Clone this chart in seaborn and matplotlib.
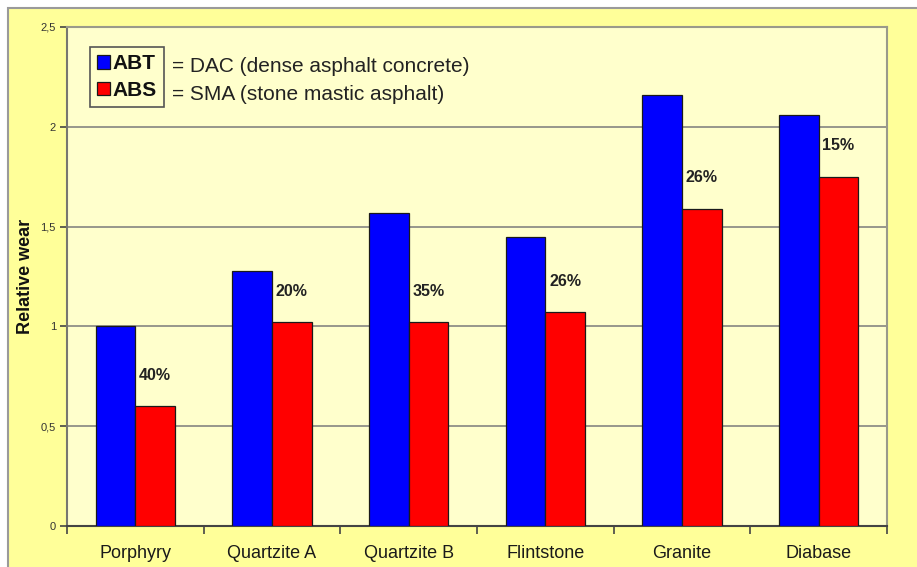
import matplotlib
matplotlib.use("Agg")
import matplotlib.pyplot as plt
from matplotlib.patches import Rectangle
from matplotlib.ticker import FixedLocator, FuncFormatter
import seaborn as sns
import pandas as pd

# Relative wear per aggregate type for the two asphalt mixes
rocks = ["Porphyry", "Quartzite A", "Quartzite B", "Flintstone", "Granite", "Diabase"]
abt_wear = [1.00, 1.28, 1.57, 1.45, 2.16, 2.06]
abs_wear = [0.60, 1.02, 1.02, 1.07, 1.59, 1.75]
reduction_pct = ["40%", "20%", "35%", "26%", "26%", "15%"]
mix_names = ["ABT", "ABS"]
mix_desc = ["= DAC (dense asphalt concrete)", "= SMA (stone mastic asphalt)"]
y_ticks = [0, 0.5, 1, 1.5, 2, 2.5]

df = pd.DataFrame({
    "Rock": rocks * 2,
    "Wear": abt_wear + abs_wear,
    "Mix": [mix_names[0]] * len(rocks) + [mix_names[1]] * len(rocks),
})

sns.set_theme(style="white")
plt.rcParams["font.family"] = ["Liberation Sans", "DejaVu Sans"]

W, H = 917, 567
fig = plt.figure(figsize=(W / 100, H / 100), dpi=100, facecolor="white")

# Outer chart area (yellow panel with grey frame)
panel = Rectangle((8 / W, -0.05), 1.1, 1 - 8 / H + 0.05,
                  transform=fig.transFigure, facecolor="#FFFF99",
                  edgecolor="#9A9A9A", linewidth=1.5, zorder=-10)
fig.patches.append(panel)

ax = fig.add_axes([67 / W, 41 / H, 820 / W, 499 / H])
ax.set_zorder(1)
ax.set_facecolor("#FFFFCC")

sns.barplot(data=df, x="Rock", y="Wear", hue="Mix", order=rocks,
            hue_order=mix_names,
            palette={"ABT": "#0000FF", "ABS": "#FF0000"},
            width=0.58, gap=0, edgecolor="#1a1a1a", linewidth=0.9,
            saturation=1, ax=ax, zorder=3)

ax.set_ylim(0, 2.5)
ax.set_xlim(-0.5, len(rocks) - 0.5)

# Horizontal grid at every 0.5
ax.yaxis.set_major_locator(FixedLocator(y_ticks))
ax.yaxis.set_major_formatter(FuncFormatter(lambda v, p: f"{v:g}".replace(".", ",")))
ax.grid(axis="y", color="#7a7a7a", linewidth=1.1, zorder=1)
ax.set_axisbelow(True)

# Category ticks: labels centred, marks on category boundaries
ax.set_xticks(range(len(rocks)))
ax.set_xticklabels(rocks)
ax.set_xticks([i + 0.5 for i in range(-1, len(rocks))], minor=True)
ax.tick_params(axis="x", which="major", length=0, pad=14, labelsize=13,
               labelcolor="#1a1a1a")
ax.tick_params(axis="x", which="minor", length=6, width=1.2, color="#444444",
               direction="out", bottom=True)
ax.tick_params(axis="y", which="major", length=5, width=1.2, color="#444444",
               direction="out", left=True, pad=3, labelsize=8,
               labelcolor="#333333")

for side in ["left", "bottom", "top", "right"]:
    ax.spines[side].set_visible(True)
    ax.spines[side].set_color("#9a9a8a")
    ax.spines[side].set_linewidth(1.5)
ax.spines["left"].set_color("#777770")
ax.spines["bottom"].set_color("#444444")

ax.set_xlabel("")
ax.set_ylabel("Relative wear", fontsize=13, fontweight="bold", color="#111111")
ax.yaxis.set_label_coords(-0.040, 0.5)

# Reduction labels above the SMA bars
ax.bar_label(ax.containers[1], labels=reduction_pct, padding=17,
             fontsize=11.5, fontweight="bold", color="#222222")

# Legend box with mix codes, explanatory text beside it
handles, _ = ax.get_legend_handles_labels()
leg = ax.legend(handles, mix_names, loc="upper left",
                bbox_to_anchor=(90 / W, 1 - 47 / H), bbox_transform=fig.transFigure,
                borderaxespad=0, frameon=True, fancybox=False,
                facecolor="#FFFFCC", edgecolor="#555555", framealpha=1,
                handlelength=0.6, handleheight=0.6, handletextpad=0.15,
                borderpad=0.35, labelspacing=0.35,
                prop={"size": 15, "weight": "bold"})
leg.get_frame().set_linewidth(1.2)
for t in leg.get_texts():
    t.set_color("#111111")

for i, desc in enumerate(mix_desc):
    fig.text(172 / W, 1 - (66 + 28 * i) / H, desc, fontsize=15,
             color="#222222", va="center", ha="left", zorder=5)

fig.savefig("out.png", dpi=100, facecolor="white")
